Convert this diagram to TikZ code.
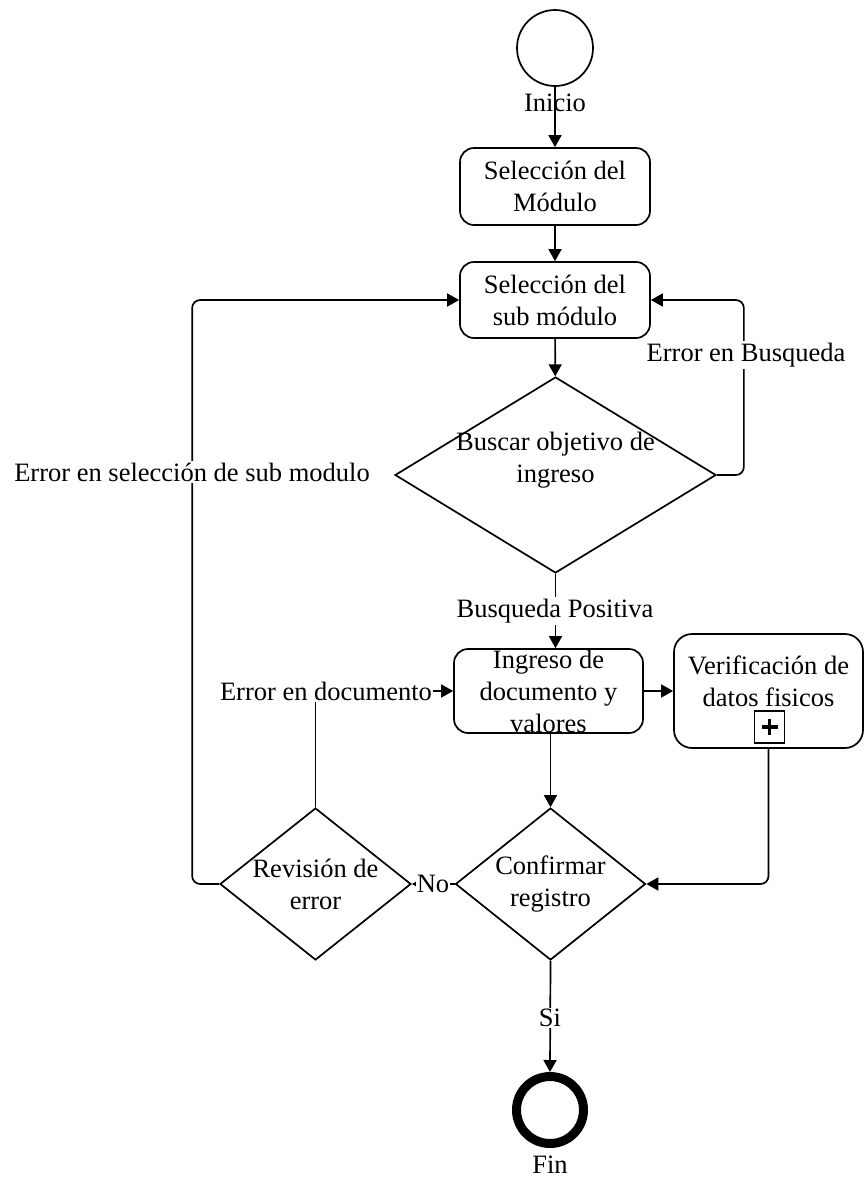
\documentclass[tikz,border=0pt]{standalone}
\usepackage{fontspec}
\setmainfont{Liberation Serif}
\usetikzlibrary{shapes.geometric,arrows.meta}

\begin{document}
\begin{tikzpicture}[x=1pt,y=-1pt,
  txt/.style={font=\fontsize{26.5}{32}\selectfont, text=black},
  line/.style={draw=black, line width=1.7pt},
  arr/.style={line, -{Triangle[length=12pt,width=13pt]}},
  procbox/.style={line, rectangle, rounded corners=14pt, inner sep=0pt,
    minimum width=190pt, minimum height=77pt},
  decision/.style={line, diamond, inner sep=0pt},
  inlabel/.style={txt, align=center},
  tag/.style={txt, fill=white, inner sep=1.5pt},
]
\fill[white] (0,0) rectangle (864,1184);
\useasboundingbox (0,0) rectangle (864,1184);

% events
\node[line, circle, minimum size=76pt, inner sep=0pt] (start) at (555,48) {};
\node[line, circle, line width=9pt, minimum size=67pt, inner sep=0pt] (stop) at (550,1110) {};
\node[txt] (starttxt) at (555,103) {Inicio};
\node[txt] (stoptxt) at (550,1165) {Fin};

% activities
\node[procbox, label={[inlabel]center:{Selección del\\Módulo}}] (mod) at (555,186.5) {};
\node[procbox, minimum height=76pt, label={[inlabel]center:{Selección del\\sub módulo}}] (submod) at (555,300) {};
\node[procbox, minimum width=189pt, minimum height=84pt, label={[inlabel]center:{Ingreso de\\documento y\\valores}}] (ingreso) at (548.5,691) {};
\node[procbox, rounded corners=18pt, minimum width=189pt, minimum height=114pt,
  label={[inlabel, yshift=10pt]center:{Verificación de\\datos fisicos}}] (verif) at (768.5,691) {};
\node[line, rectangle, inner sep=0pt, minimum width=30pt, minimum height=32pt] (plus) at (769.5,727) {};
\draw[line width=3.8pt] ([xshift=-8pt]plus.center) -- ([xshift=8pt]plus.center);
\draw[line width=3.8pt] ([yshift=-8pt]plus.center) -- ([yshift=8pt]plus.center);

% gateways
\node[decision, minimum width=321pt, minimum height=196pt,
  label={[inlabel, yshift=15pt]center:{Buscar objetivo de\\ingreso}}] (buscar) at (555.5,475) {};
\node[decision, minimum width=190pt, minimum height=152pt,
  label={[inlabel]center:{Confirmar\\registro}}] (confirm) at (550.5,884) {};
\node[decision, minimum width=191pt, minimum height=152pt,
  label={[inlabel]center:{Revisión de\\error}}] (revision) at (315.5,884) {};

% main flow
\draw[arr] (start) -- (mod);
\draw[arr] (mod) -- (submod);
\draw[arr] (submod) -- (buscar);
\draw[arr] (buscar.south) -- (buscar.south |- ingreso.north);
\draw[arr] (ingreso) -- (verif);
\draw[arr] (ingreso.south -| confirm.north) -- (confirm.north);
\draw[arr, rounded corners=8pt] (verif.south) |- (confirm.east);
\draw[arr] (confirm.west) -- (revision.east);
\draw[arr] (confirm.south) -- (stop.north);

% loops back
\draw[arr, rounded corners=8pt] (buscar.east) -- ++(27,0) |- (submod.east);
\draw[arr, rounded corners=8pt] (revision.west) -- ++(-27,0) |- (submod.west);
\draw[arr] (revision.north) |- (ingreso.west);

% connector labels
\node[tag] (lblbusq) at (746,355) {Error en Busqueda};
\node[tag] (lblpos) at (555,611) {Busqueda Positiva};
\node[tag] (lblsub) at (192,472) {Error en selección de sub modulo};
\node[tag] (lbldoc) at (326,691) {Error en documento};
\node[tag, inner sep=0.5pt] (lblno) at (433,884) {No};
\node[tag] (lblsi) at (550,1018) {Si};
\end{tikzpicture}
\end{document}
